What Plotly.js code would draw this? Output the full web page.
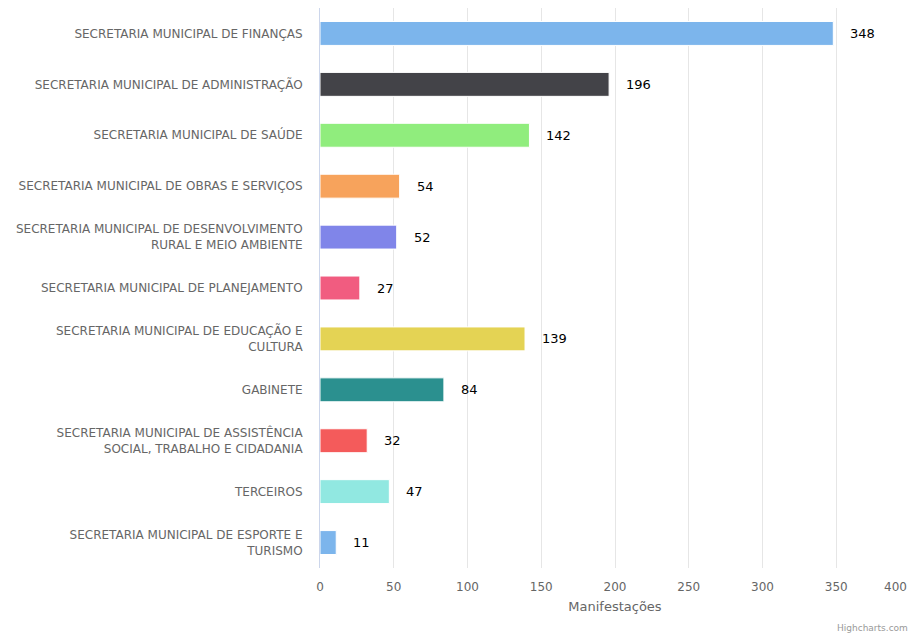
<!DOCTYPE html>
<html>
<head>
<meta charset="utf-8">
<script src="https://cdn.plot.ly/plotly-3.0.1.min.js"></script>
<style>html,body{margin:0;padding:0;background:#fff;}#chart{width:912px;height:636px;}</style>
</head>
<body>
<div id="chart"></div>
<script>
const categories = [
  "SECRETARIA MUNICIPAL DE FINANÇAS",
  "SECRETARIA MUNICIPAL DE ADMINISTRAÇÃO",
  "SECRETARIA MUNICIPAL DE SAÚDE",
  "SECRETARIA MUNICIPAL DE OBRAS E SERVIÇOS",
  "SECRETARIA MUNICIPAL DE DESENVOLVIMENTO<br>RURAL E MEIO AMBIENTE",
  "SECRETARIA MUNICIPAL DE PLANEJAMENTO",
  "SECRETARIA MUNICIPAL DE EDUCAÇÃO E<br>CULTURA",
  "GABINETE",
  "SECRETARIA MUNICIPAL DE ASSISTÊNCIA<br>SOCIAL, TRABALHO E CIDADANIA",
  "TERCEIROS",
  "SECRETARIA MUNICIPAL DE ESPORTE E<br>TURISMO"
];
const values = [348, 196, 142, 54, 52, 27, 139, 84, 32, 47, 11];
const colors = ["#7cb5ec","#434348","#90ed7d","#f7a35c","#8085e9","#f15c80","#e4d354","#2b908f","#f45b5b","#91e8e1","#7cb5ec"];
const xTicks = [0, 50, 100, 150, 200, 250, 300, 350, 400];
const xTitle = "Manifestações";
const creditText = "Highcharts.com";

const font = "'DejaVu Sans', 'Lucida Grande', Arial, sans-serif";
const xMax = xTicks[xTicks.length - 1];

const trace = {
  type: "bar",
  orientation: "h",
  x: values,
  y: categories,
  marker: {color: colors, line: {color: "#ffffff", width: 1}},
  hoverinfo: "x+y"
};

const annotations = values.map((v, i) => ({
  x: v, y: categories[i], xref: "x", yref: "y",
  text: String(v),
  showarrow: false, xanchor: "left", xshift: 15,
  font: {family: font, size: 13, color: "#000000"}
}));
// last tick label, justified inside the chart like the original
annotations.push({
  x: xMax, xref: "x", yref: "paper", y: 0, yshift: -19,
  xanchor: "right", yanchor: "middle", xshift: -1,
  text: String(xMax), showarrow: false,
  font: {family: font, size: 12, color: "#666666"}
});
annotations.push({
  xref: "paper", yref: "paper", x: 1, y: 0, yshift: -60,
  xanchor: "right", yanchor: "middle",
  text: creditText, showarrow: false,
  font: {family: font, size: 9, color: "#999999"}
});

const layout = {
  width: 912, height: 636,
  margin: {l: 320, r: 2, t: 8, b: 68},
  paper_bgcolor: "#ffffff", plot_bgcolor: "#ffffff",
  bargap: 0.53,
  showlegend: false,
  font: {family: font, color: "#666666", size: 12},
  xaxis: {
    range: [0, xMax],
    tickvals: xTicks,
    ticktext: xTicks.map(t => t === xMax ? "" : String(t)),
    showgrid: true, gridcolor: "#e6e6e6", gridwidth: 1,
    zeroline: false, showline: false, ticks: "",
    ticklabelstandoff: 10,
    tickfont: {family: font, size: 12, color: "#666666"},
    title: {text: xTitle, font: {family: font, size: 13, color: "#666666"}, standoff: 8}
  },
  yaxis: {
    type: "category",
    autorange: "reversed",
    showgrid: false, zeroline: false,
    showline: true, linecolor: "#ccd6eb", linewidth: 1,
    ticks: "", ticklen: 0,
    ticklabelstandoff: 14,
    tickfont: {family: font, size: 12, color: "#666666"},
    automargin: false
  },
  annotations: annotations
};

Plotly.newPlot("chart", [trace], layout, {displayModeBar: false, staticPlot: true});
</script>
</body>
</html>
